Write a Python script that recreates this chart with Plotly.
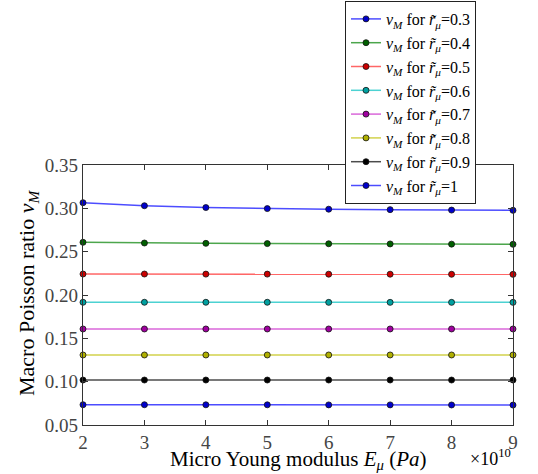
import plotly.graph_objects as go

x_vals = [2, 3, 4, 5, 6, 7, 8, 9]
x_tick_labels = ["2", "3", "4", "5", "6", "7", "8", "9"]
y_tick_vals = [0.05, 0.10, 0.15, 0.20, 0.25, 0.30, 0.35]
y_tick_labels = ["0.05", "0.10", "0.15", "0.20", "0.25", "0.30", "0.35"]

r_labels = ["0.3", "0.4", "0.5", "0.6", "0.7", "0.8", "0.9", "1"]
nu_r03 = [0.3065, 0.3030, 0.3009, 0.2997, 0.2990, 0.2985, 0.2980, 0.2977]
nu_r04 = [0.2608, 0.2600, 0.2596, 0.2593, 0.2591, 0.2589, 0.2587, 0.2585]
nu_r05 = [0.2242, 0.2242, 0.2241, 0.2241, 0.2240, 0.2240, 0.2239, 0.2238]
nu_r06 = [0.1916, 0.1916, 0.1916, 0.1916, 0.1915, 0.1915, 0.1915, 0.1915]
nu_r07 = [0.1608, 0.1608, 0.1608, 0.1608, 0.1608, 0.1608, 0.1608, 0.1608]
nu_r08 = [0.1308, 0.1308, 0.1308, 0.1308, 0.1308, 0.1308, 0.1308, 0.1308]
nu_r09 = [0.1019, 0.1019, 0.1019, 0.1019, 0.1019, 0.1019, 0.1019, 0.1019]
nu_r10 = [0.0734, 0.0734, 0.0733, 0.0733, 0.0732, 0.0732, 0.0731, 0.0730]
series = [nu_r03, nu_r04, nu_r05, nu_r06, nu_r07, nu_r08, nu_r09, nu_r10]

line_colors = ["rgba(0,0,255,0.7)", "rgba(0,128,0,0.7)", "rgba(255,0,0,0.6)",
               "rgba(0,191,191,0.7)", "rgba(191,0,191,0.6)", "rgba(191,191,0,0.7)",
               "rgba(0,0,0,0.7)", "rgba(0,0,255,0.7)"]
marker_colors = ["#0000cc", "#006000", "#cc0000", "#00a0a0", "#a000a0", "#b0b000",
                 "#000000", "#0000cc"]

FONT = "Liberation Serif, DejaVu Serif, serif"

fig = go.Figure()
for r, ys, lc, mc in zip(r_labels, series, line_colors, marker_colors):
    fig.add_trace(go.Scatter(
        x=x_vals, y=ys, mode="lines+markers",
        name=f"<i>ν</i><sub><i>M</i></sub> for <i>r̃</i><sub><i>μ</i></sub>={r}",
        line=dict(color=lc, width=1.5),
        marker=dict(color=mc, size=6, line=dict(color="#111111", width=0.8)),
        cliponaxis=False,
    ))

axis_common = dict(
    showgrid=False, zeroline=False, showline=True, linecolor="#333333", linewidth=1.2,
    mirror="ticks", ticks="inside", ticklen=5, tickcolor="#333333",
    tickfont=dict(family=FONT, size=19, color="#444444"),
)

fig.update_layout(
    width=538, height=474,
    margin=dict(l=83, r=25, t=165, b=49, autoexpand=False),
    paper_bgcolor="white", plot_bgcolor="white",
    font=dict(family=FONT, color="black"),
    xaxis=dict(range=[2, 9], tickvals=x_vals, ticktext=x_tick_labels, **axis_common),
    yaxis=dict(range=[0.05, 0.35], tickvals=y_tick_vals, ticktext=y_tick_labels, **axis_common),
    legend=dict(x=(345 - 83) / 430, y=(425 - 1) / 260, xref="paper", yref="paper",
                xanchor="left", yanchor="top",
                bordercolor="#222222", borderwidth=1, bgcolor="white",
                font=dict(family=FONT, size=16, color="black"),
                tracegroupgap=0, itemwidth=30),
    showlegend=True,
)

# axis titles (placed as annotations for precise positioning)
fig.add_annotation(text="Micro Young modulus <i>E</i><sub><i>μ</i></sub> (<i>Pa</i>)",
                   xref="paper", yref="paper", x=0.5, y=(425 - 460) / 260,
                   xanchor="center", yanchor="middle", showarrow=False,
                   font=dict(family=FONT, size=21, color="black"))
fig.add_annotation(text="Macro Poisson ratio <i>ν</i><sub><i>M</i></sub>",
                   xref="paper", yref="paper", x=(28 - 83) / 430, y=(425 - 293) / 260,
                   xanchor="center", yanchor="middle", textangle=-90, showarrow=False,
                   font=dict(family=FONT, size=22, color="black"))
fig.add_annotation(text="×10<sup>10</sup>", xref="paper", yref="paper",
                   x=1.0, y=(425 - 457) / 260, xanchor="right", yanchor="middle", showarrow=False,
                   font=dict(family=FONT, size=18, color="black"))

fig.write_html("out.html", config={"displayModeBar": False},
               post_script="document.body.style.margin='0px';")
